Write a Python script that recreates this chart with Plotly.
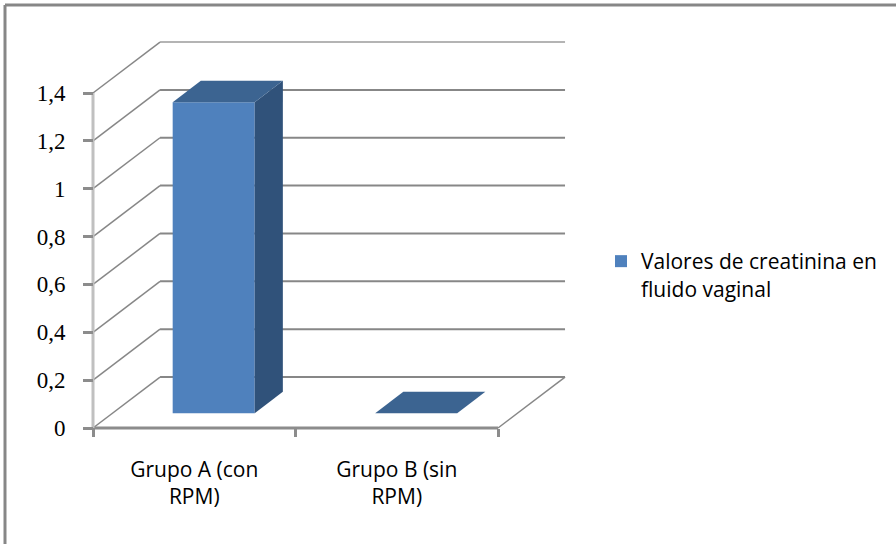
import plotly.graph_objects as go

# ---- data -------------------------------------------------------------
categories = ["Grupo A (con<br>RPM)", "Grupo B (sin<br>RPM)"]
values = [1.3, 0.0]
series_name = "Valores de creatinina en<br>fluido vaginal"
y_ticks = [0, 0.2, 0.4, 0.6, 0.8, 1.0, 1.2, 1.4]

# ---- oblique 3-D projection settings ------------------------------------
# shift of the back wall relative to the front plane, in axis units
DEPTH_DX = 0.331   # category units
DEPTH_DY = 0.213   # value units
BAR_FRONT, BAR_BACK = 0.29, 0.71   # bar depth span (fraction of wall depth)
BAR_HALF = 0.2025                  # half bar width, category units

W, H = 896, 544
X_RANGE = [-0.95926, 3.46543]
Y_RANGE = [-0.48477, 1.78865]

FRONT = "#4F81BD"
TOP = "#3C6491"
SIDE = "#30527A"
GRID = "#878787"
SANS = "Open Sans"

x_pos = list(range(len(categories)))
x_lo, x_hi = x_pos[0] - 0.5, x_pos[-1] + 0.5
y_max = y_ticks[-1]

fig = go.Figure()

# front faces of the columns
fig.add_trace(go.Bar(
    x=[p + BAR_FRONT * DEPTH_DX for p in x_pos],
    y=values,
    base=BAR_FRONT * DEPTH_DY,
    width=2 * BAR_HALF,
    marker=dict(color=FRONT, line=dict(width=0)),
    name=series_name,
    showlegend=True,
    hoverinfo="skip",
))

# top and side faces of the columns
for p, v in zip(x_pos, values):
    l0 = p - BAR_HALF + BAR_FRONT * DEPTH_DX
    r0 = p + BAR_HALF + BAR_FRONT * DEPTH_DX
    l1 = p - BAR_HALF + BAR_BACK * DEPTH_DX
    r1 = p + BAR_HALF + BAR_BACK * DEPTH_DX
    b0 = BAR_FRONT * DEPTH_DY
    b1 = BAR_BACK * DEPTH_DY
    if v > 0:
        fig.add_trace(go.Scatter(
            x=[r0, r1, r1, r0, r0], y=[b0, b1, v + b1, v + b0, b0],
            fill="toself", fillcolor=SIDE, mode="lines", line=dict(width=0),
            showlegend=False, hoverinfo="skip"))
    fig.add_trace(go.Scatter(
        x=[l0, r0, r1, l1, l0], y=[v + b0, v + b0, v + b1, v + b1, v + b0],
        fill="toself", fillcolor=TOP, mode="lines", line=dict(width=0),
        showlegend=False, hoverinfo="skip"))

shapes = []
# back wall gridlines and side wall diagonals
for t in y_ticks:
    shapes.append(dict(type="line", xref="x", yref="y", layer="below",
                       x0=x_lo + DEPTH_DX, x1=x_hi + DEPTH_DX,
                       y0=t + DEPTH_DY, y1=t + DEPTH_DY,
                       line=dict(color="#B4B4B4" if t == y_max else GRID, width=2)))
    shapes.append(dict(type="line", xref="x", yref="y", layer="below",
                       x0=x_lo, x1=x_lo + DEPTH_DX, y0=t, y1=t + DEPTH_DY,
                       line=dict(color=GRID, width=1.5)))
# floor: right edge and front edge
shapes.append(dict(type="line", xref="x", yref="y", layer="below",
                   x0=x_hi, x1=x_hi + DEPTH_DX, y0=0, y1=DEPTH_DY,
                   line=dict(color=GRID, width=1.5)))
shapes.append(dict(type="line", xref="x", yref="y", layer="below",
                   x0=x_lo, x1=x_hi, y0=0, y1=0,
                   line=dict(color="#8C8C8C", width=3)))
# vertical value axis line
shapes.append(dict(type="line", xref="x", yref="y", layer="below",
                   x0=x_lo, x1=x_lo, y0=0, y1=y_max,
                   line=dict(color="#C0C0C0", width=3)))
# chart area border
shapes.append(dict(type="line", xref="paper", yref="paper",
                   x0=5 / W, x1=5 / W, y0=0, y1=1 - 5 / H,
                   line=dict(color="#878787", width=3)))
shapes.append(dict(type="line", xref="paper", yref="paper",
                   x0=5 / W, x1=1, y0=1 - 5 / H, y1=1 - 5 / H,
                   line=dict(color="#878787", width=3)))

x_anchor_pos = (0 - Y_RANGE[0]) / (Y_RANGE[1] - Y_RANGE[0])
y_anchor_pos = (x_lo - X_RANGE[0]) / (X_RANGE[1] - X_RANGE[0])

fig.update_layout(
    width=W, height=H,
    margin=dict(l=0, r=0, t=0, b=0),
    paper_bgcolor="white", plot_bgcolor="white",
    separators=",.",
    shapes=shapes,
    showlegend=True,
    legend=dict(x=601 / W, y=1 - 241 / H, xanchor="left", yanchor="top",
                valign="top", bgcolor="rgba(0,0,0,0)",
                font=dict(family=SANS, size=21, color="black")),
    xaxis=dict(range=X_RANGE, domain=[0, 1], anchor="free", position=x_anchor_pos,
               showgrid=False, zeroline=False, showline=False,
               tickmode="array", tickvals=x_pos, ticktext=categories, ticks="",
               ticklabelstandoff=27,
               tickfont=dict(family=SANS, size=21, color="black"),
               minor=dict(tickmode="array",
                          tickvals=[x_lo + k for k in range(len(x_pos) + 1)],
                          ticks="outside", ticklen=8, tickwidth=3, tickcolor="#8C8C8C")),
    yaxis=dict(range=Y_RANGE, domain=[0, 1], anchor="free", position=y_anchor_pos,
               showgrid=False, zeroline=False, showline=False,
               tickmode="array", tickvals=y_ticks, ticks="outside",
               ticklen=10, tickwidth=3, tickcolor="#8C8C8C",
               ticklabelstandoff=13,
               tickfont=dict(family="Liberation Serif", size=23, color="black")),
)

fig.write_html("out.html")
